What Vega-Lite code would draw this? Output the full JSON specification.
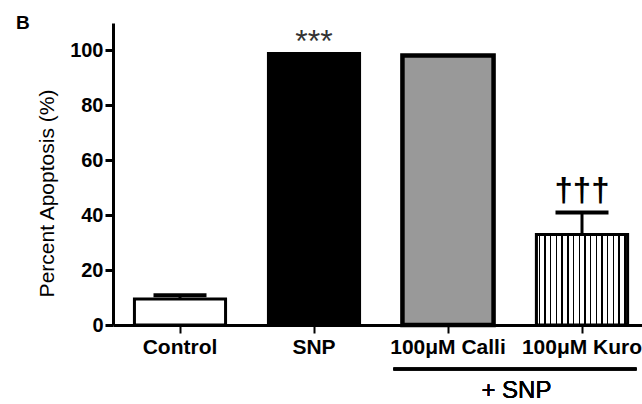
{
  "$schema": "https://vega.github.io/schema/vega-lite/v6.json",
  "width": 536,
  "height": 302,
  "autosize": "none",
  "padding": {"left": 113, "top": 23, "right": 0, "bottom": 79},
  "background": "white",
  "title": {"text": "B", "anchor": "start", "frame": "group", "dx": -97, "fontSize": 19, "fontWeight": "bold", "font": "Liberation Sans", "color": "black", "offset": 0, "baseline": "alphabetic", "dy": 25},
  "config": {"view": {"stroke": null}, "font": "Liberation Sans"},
  "data": {"values": [
    {"group": "Control", "value": 9.5, "upper": 10.8},
    {"group": "SNP", "value": 98.9, "upper": 98.9},
    {"group": "100μM Calli", "value": 98.2, "upper": 98.2},
    {"group": "100μM Kuro", "value": 33, "upper": 41}
  ]},
  "encoding": {
    "x": {"field": "group", "type": "nominal", "sort": null,
      "scale": {"paddingInner": 0.32, "paddingOuter": 0.16},
      "axis": {"title": null, "labelAngle": 0, "labelFont": "Liberation Sans", "labelFontSize": 21, "labelFontWeight": "bold", "labelColor": "black", "labelPadding": 3, "domainColor": "black", "domainWidth": 3, "tickColor": "black", "tickWidth": 2, "tickSize": 8}
    }
  },
  "layer": [
    {
      "mark": {"type": "bar", "stroke": "black", "strokeWidth": 3},
      "encoding": {
        "y": {"field": "value", "type": "quantitative",
          "scale": {"domain": [0, 110], "nice": false},
          "axis": {"title": "Percent Apoptosis (%)", "values": [0, 20, 40, 60, 80, 100], "grid": false,
            "titleFont": "Liberation Sans", "titleFontSize": 21, "titleFontWeight": "normal", "titleColor": "black",
            "titleX": -56, "titleY": 170,
            "labelFont": "Liberation Sans", "labelFontSize": 20, "labelFontWeight": "bold", "labelColor": "black", "labelPadding": 2,
            "domainColor": "black", "domainWidth": 3, "tickColor": "black", "tickWidth": 3, "tickSize": 8}
        },
        "fill": {"field": "group", "type": "nominal", "legend": null,
          "scale": {"domain": ["Control", "SNP", "100μM Calli", "100μM Kuro"], "range": ["#ffffff", "#000000", "#999999", "#ffffff"]}}
      }
    },
    {
      "transform": [{"filter": "datum.group === '100μM Calli'"}],
      "mark": {"type": "bar", "stroke": "black", "strokeWidth": 4.5, "fill": "#999999"},
      "encoding": {"y": {"field": "value", "type": "quantitative"}}
    },
    {
      "transform": [{"filter": "datum.group === '100μM Kuro'"}],
      "mark": {"type": "bar", "stroke": "black", "strokeWidth": 3,
        "fill": {"gradient": "linear", "x1": 0, "x2": 1, "y1": 0, "y2": 0, "stops": [
          {"offset": 0, "color": "white"},
          {"offset": 0.025, "color": "white"}, {"offset": 0.025, "color": "black"}, {"offset": 0.04, "color": "black"}, {"offset": 0.04, "color": "white"},
          {"offset": 0.0875, "color": "white"}, {"offset": 0.0875, "color": "black"}, {"offset": 0.1025, "color": "black"}, {"offset": 0.1025, "color": "white"},
          {"offset": 0.15, "color": "white"}, {"offset": 0.15, "color": "black"}, {"offset": 0.165, "color": "black"}, {"offset": 0.165, "color": "white"},
          {"offset": 0.2125, "color": "white"}, {"offset": 0.2125, "color": "black"}, {"offset": 0.2275, "color": "black"}, {"offset": 0.2275, "color": "white"},
          {"offset": 0.275, "color": "white"}, {"offset": 0.275, "color": "black"}, {"offset": 0.29, "color": "black"}, {"offset": 0.29, "color": "white"},
          {"offset": 0.3375, "color": "white"}, {"offset": 0.3375, "color": "black"}, {"offset": 0.3525, "color": "black"}, {"offset": 0.3525, "color": "white"},
          {"offset": 0.4, "color": "white"}, {"offset": 0.4, "color": "black"}, {"offset": 0.415, "color": "black"}, {"offset": 0.415, "color": "white"},
          {"offset": 0.4625, "color": "white"}, {"offset": 0.4625, "color": "black"}, {"offset": 0.4775, "color": "black"}, {"offset": 0.4775, "color": "white"},
          {"offset": 0.525, "color": "white"}, {"offset": 0.525, "color": "black"}, {"offset": 0.54, "color": "black"}, {"offset": 0.54, "color": "white"},
          {"offset": 0.5875, "color": "white"}, {"offset": 0.5875, "color": "black"}, {"offset": 0.6025, "color": "black"}, {"offset": 0.6025, "color": "white"},
          {"offset": 0.65, "color": "white"}, {"offset": 0.65, "color": "black"}, {"offset": 0.665, "color": "black"}, {"offset": 0.665, "color": "white"},
          {"offset": 0.7125, "color": "white"}, {"offset": 0.7125, "color": "black"}, {"offset": 0.7275, "color": "black"}, {"offset": 0.7275, "color": "white"},
          {"offset": 0.775, "color": "white"}, {"offset": 0.775, "color": "black"}, {"offset": 0.79, "color": "black"}, {"offset": 0.79, "color": "white"},
          {"offset": 0.8375, "color": "white"}, {"offset": 0.8375, "color": "black"}, {"offset": 0.8525, "color": "black"}, {"offset": 0.8525, "color": "white"},
          {"offset": 0.9, "color": "white"}, {"offset": 0.9, "color": "black"}, {"offset": 0.915, "color": "black"}, {"offset": 0.915, "color": "white"},
          {"offset": 0.9625, "color": "white"}, {"offset": 0.9625, "color": "black"}, {"offset": 0.9775, "color": "black"}, {"offset": 0.9775, "color": "white"},
          {"offset": 1, "color": "white"}
        ]}},
      "encoding": {"y": {"field": "value", "type": "quantitative"}}
    },
    {
      "transform": [{"filter": "datum.upper > datum.value"}],
      "mark": {"type": "rule", "color": "black", "strokeWidth": 3},
      "encoding": {"y": {"field": "value", "type": "quantitative"}, "y2": {"field": "upper"}}
    },
    {
      "transform": [{"filter": "datum.upper > datum.value"}],
      "mark": {"type": "tick", "color": "black", "size": 53, "thickness": 4, "opacity": 1},
      "encoding": {"y": {"field": "upper", "type": "quantitative"}}
    },
    {
      "transform": [{"filter": "datum.group === 'SNP'"}],
      "mark": {"type": "text", "text": "***", "fontSize": 32, "color": "#333333", "baseline": "bottom", "dy": 6, "font": "Liberation Sans"},
      "encoding": {"y": {"field": "upper", "type": "quantitative"}}
    },
    {
      "transform": [{"filter": "datum.group === '100μM Kuro'"}],
      "mark": {"type": "text", "text": "†††", "fontSize": 33, "fontWeight": "bold", "color": "black", "baseline": "bottom", "dy": -4, "font": "Liberation Sans"},
      "encoding": {"y": {"field": "upper", "type": "quantitative"}}
    },
    {
      "mark": {"type": "rule", "color": "black", "strokeWidth": 3, "xOffset": -9, "x2Offset": 9},
      "encoding": {
        "x": {"datum": "100μM Calli", "bandPosition": 0},
        "x2": {"datum": "100μM Kuro", "bandPosition": 1},
        "y": {"datum": -16}
      }
    },
    {
      "mark": {"type": "text", "text": "+ SNP", "fontSize": 24, "color": "black", "baseline": "middle", "dx": -20, "font": "Liberation Sans"},
      "encoding": {
        "x": {"datum": "100μM Kuro", "bandPosition": 0},
        "y": {"datum": -24}
      }
    }
  ]
}
